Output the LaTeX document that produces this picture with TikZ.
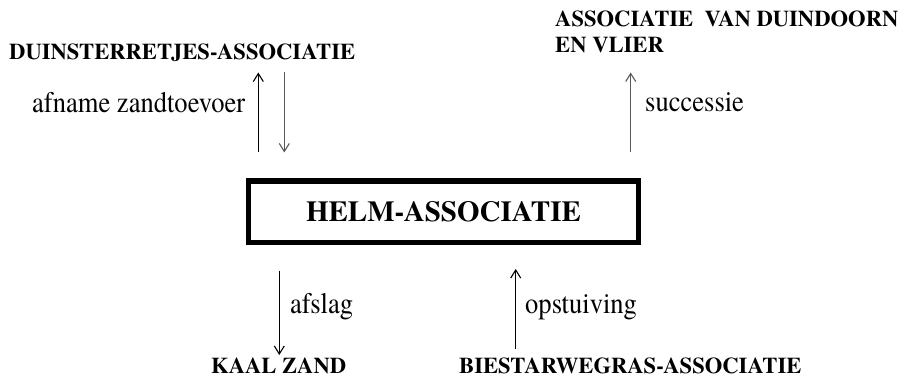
\documentclass[tikz,border=0pt]{standalone}
\usepackage{fontspec}
\newfontfamily\tnr{texgyretermes}[Extension=.otf, UprightFont=*-regular, BoldFont=*-bold, ItalicFont=*-italic, BoldItalicFont=*-bolditalic]
\newfontfamily\tnrnarrow{texgyretermes}[Extension=.otf, UprightFont=*-regular, BoldFont=*-bold, FakeStretch=0.9]
\usetikzlibrary{arrows.meta}
\tikzset{
  biglabel/.style={inner sep=0pt, anchor=base west, font=\tnr\bfseries\fontsize{22.6}{26}\selectfont},
  smalllabel/.style={inner sep=0pt, anchor=base west, font=\tnrnarrow\fontsize{29.5}{33}\selectfont},
  helmbox/.style={draw, line width=5.5pt, minimum width=390pt, minimum height=61.5pt, inner sep=0pt, font=\tnr\bfseries\fontsize{29}{32}\selectfont},
  arr/.style={line width=1.1pt, -{Straight Barb[length=8pt,width=10pt,line width=1.1pt]}},
  grayarr/.style={arr, draw=black!65},
}
\begin{document}
\begin{tikzpicture}[x=1pt,y=-1pt]
\useasboundingbox (0,0) rectangle (904,387);
\node[helmbox] (helm) at (443.5,211.75) {HELM-ASSOCIATIE};
\node[biglabel] (duin) at (9,60) {DUINSTERRETJES-ASSOCIATIE};
\node[biglabel, align=left] (vlier) at (555,53) {ASSOCIATIE\ \ VAN DUINDOORN\\EN VLIER};
\node[biglabel] (kaal) at (211,373) {KAAL ZAND};
\node[biglabel] (bies) at (459,373) {BIESTARWEGRAS-ASSOCIATIE};
\node[smalllabel] (afname) at (32,113) {afname zandtoevoer};
\node[smalllabel] (succ) at (645,112) {successie};
\node[smalllabel] (afslag) at (290,313) {afslag};
\node[smalllabel] (opst) at (525,313) {opstuiving};
\coordinate (a1b) at (258.3,152.5);
\coordinate (a1t) at (258.3,72.5);
\coordinate (a2t) at (284.3,72.5);
\coordinate (a2b) at (284.3,152.5);
\coordinate (a3b) at (630.7,152.5);
\coordinate (a3t) at (630.7,72.5);
\coordinate (a4t) at (279.3,270.5);
\coordinate (a4b) at (279.3,355);
\coordinate (a5b) at (515.7,348.5);
\coordinate (a5t) at (515.7,269);
\draw[arr] (a1b) -- (a1t);
\draw[grayarr] (a2t) -- (a2b);
\draw[grayarr] (a3b) -- (a3t);
\draw[arr] (a4t) -- (a4b);
\draw[arr] (a5b) -- (a5t);
\end{tikzpicture}
\end{document}
